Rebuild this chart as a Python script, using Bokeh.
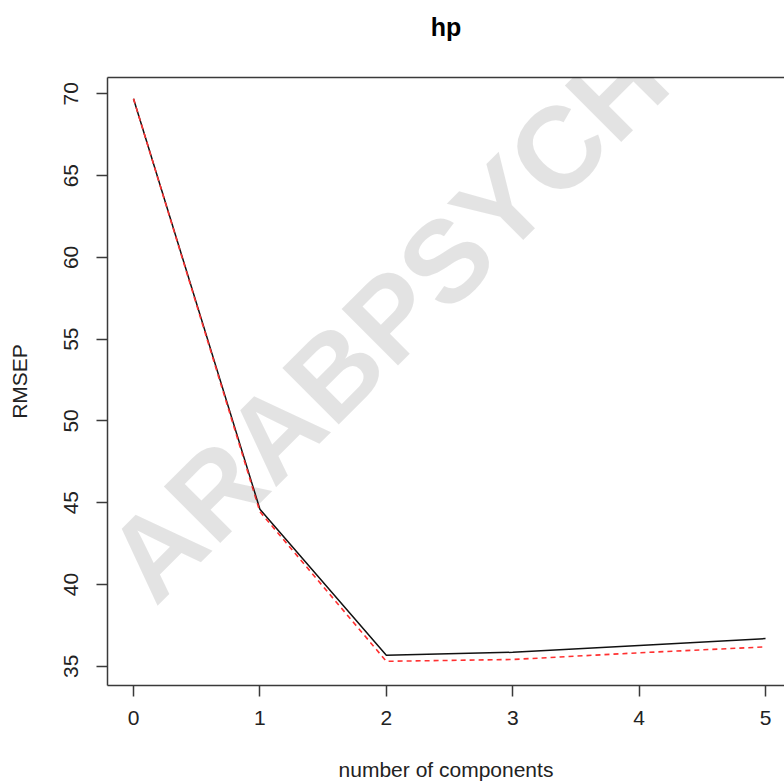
from bokeh.plotting import figure
from bokeh.models import Range1d, FixedTicker, LinearAxis, Label
from bokeh.embed import file_html
from bokeh.resources import INLINE
import math

components = [0, 1, 2, 3, 4, 5]
cv = [69.7, 44.6, 35.67, 35.85, 36.26, 36.69]
adjcv = [69.7, 44.45, 35.3, 35.41, 35.82, 36.18]
x_ticks = [0, 1, 2, 3, 4, 5]
y_ticks = [35, 40, 45, 50, 55, 60, 65, 70]
title_text = "hp"

FONT = "Liberation Sans"
AX = "#3a3a3a"

p = figure(width=784, height=783, output_backend="svg", toolbar_location=None,
           x_range=Range1d(-0.2057, 5.150), y_range=Range1d(33.82, 71.0),
           min_border_left=107, min_border_right=0, min_border_top=77, min_border_bottom=97)
p.outline_line_color = None
p.xgrid.visible = False
p.ygrid.visible = False
p.background_fill_color = "white"

for ax in (p.xaxis[0], p.yaxis[0]):
    ax.axis_line_color = AX
    ax.axis_line_width = 1.5
    ax.major_tick_line_color = AX
    ax.major_tick_line_width = 1.5
    ax.major_tick_out = 11
    ax.major_tick_in = 0
    ax.minor_tick_line_color = None
    ax.major_label_text_font = FONT
    ax.major_label_text_font_size = "21px"
    ax.major_label_text_color = "#222222"
    ax.axis_label_text_font = FONT
    ax.axis_label_text_font_size = "21px"
    ax.axis_label_text_font_style = "normal"
    ax.axis_label_text_color = "#222222"

p.xaxis.ticker = FixedTicker(ticks=x_ticks)
p.yaxis.ticker = FixedTicker(ticks=y_ticks)
p.yaxis.major_label_orientation = "vertical"
p.xaxis.axis_label = "number of components"
p.yaxis.axis_label = "RMSEP"
p.xaxis.major_label_standoff = 14
p.xaxis.axis_label_standoff = 30
p.yaxis.major_label_standoff = 18
p.yaxis.axis_label_standoff = 31

# top box edge, carrying the main title
top = LinearAxis(axis_line_color=AX, axis_line_width=1.5, major_tick_line_color=None,
                 minor_tick_line_color=None, major_label_text_font_size="0px",
                 major_label_standoff=0, ticker=FixedTicker(ticks=[]),
                 axis_label=title_text, axis_label_standoff=37,
                 axis_label_text_font=FONT, axis_label_text_font_size="25px",
                 axis_label_text_font_style="bold", axis_label_text_color="black")
p.add_layout(top, "above")

p.line(components, cv, line_color="#111111", line_width=1.5)
p.line(components, adjcv, line_color="#ff3030", line_width=1.6, line_dash="5 4")

p.add_layout(Label(x=-0.05, y=40.3, text="ARABPSYCHOLOGY", text_font=FONT,
                   text_font_size="116px", text_font_style="bold", text_align="left",
                   text_baseline="alphabetic", text_color="black", text_alpha=0.11,
                   angle=math.radians(45)))

open("out.html", "w").write(file_html(p, INLINE))
